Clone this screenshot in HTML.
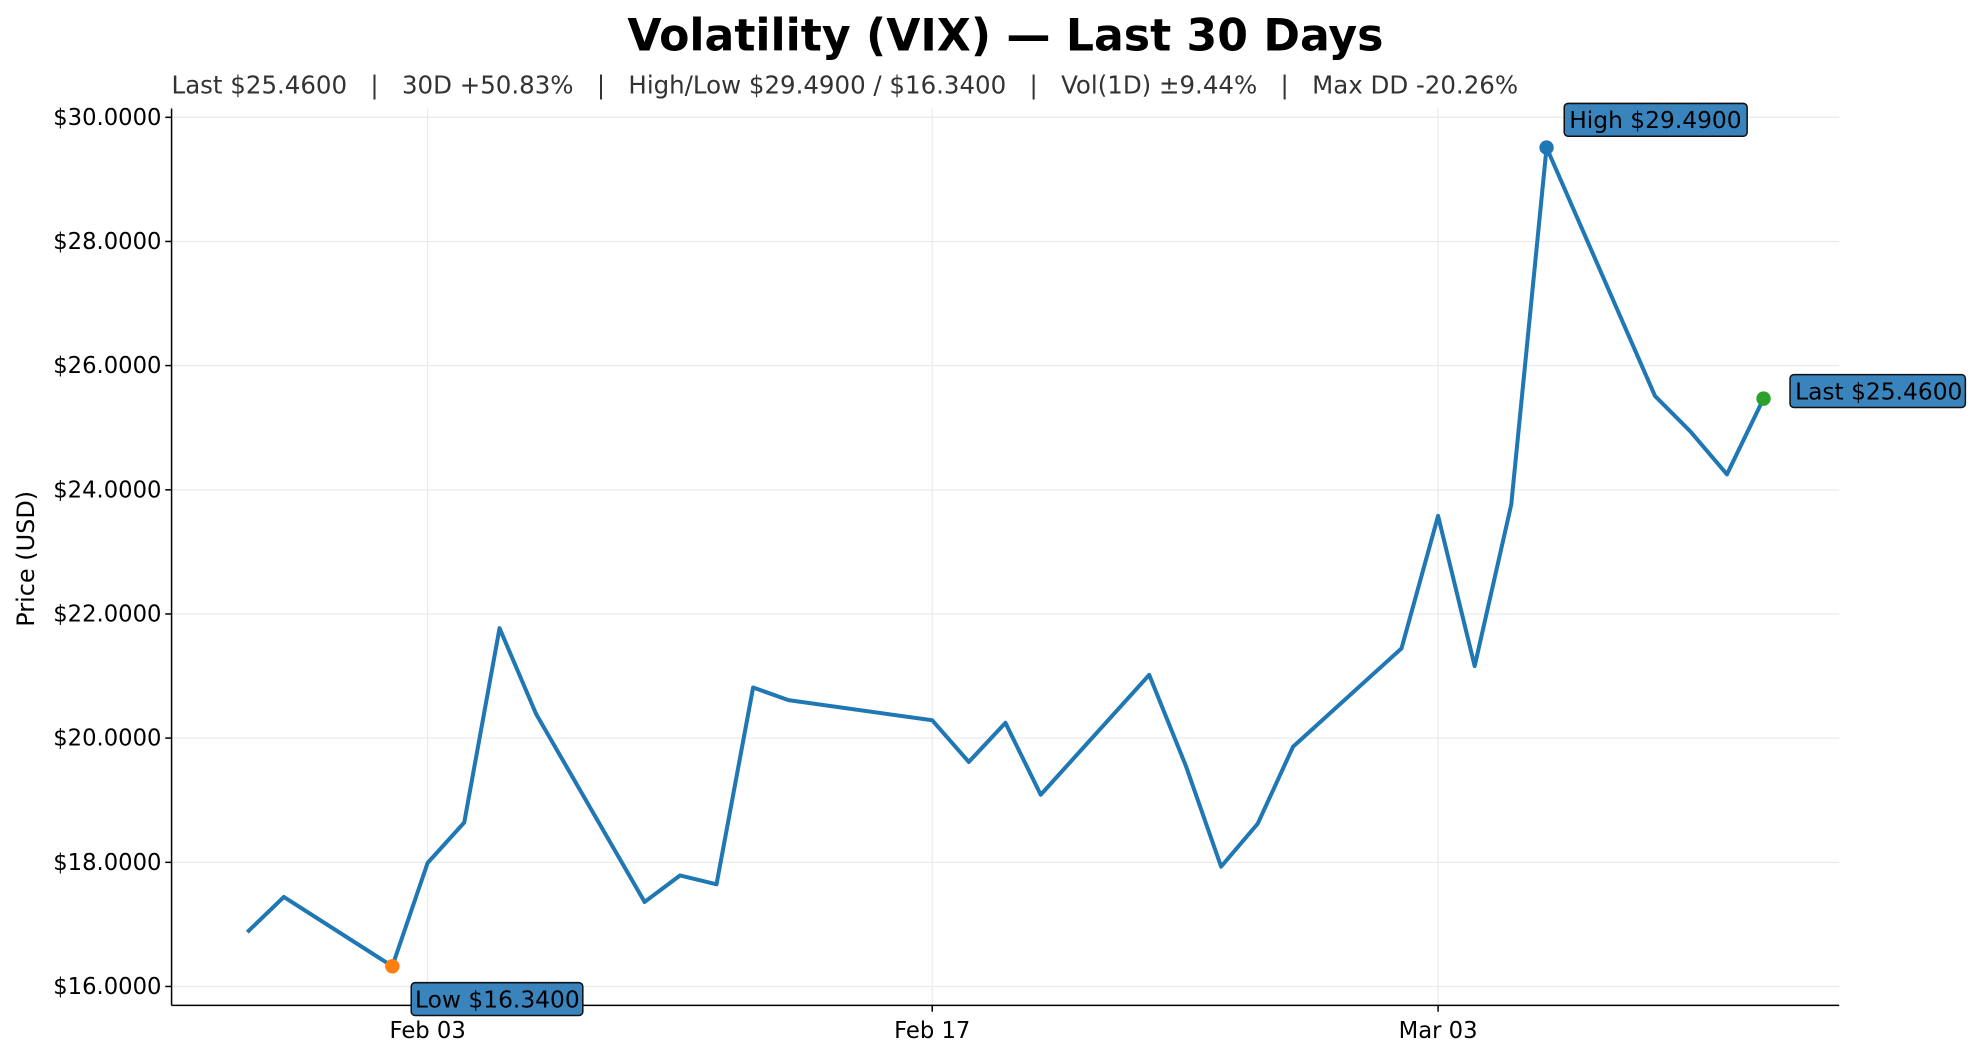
<!DOCTYPE html>
<html><head><meta charset="utf-8"><style>
html,body{margin:0;padding:0;background:#fff;}
svg{display:block;font-family:"DejaVu Sans","Liberation Sans",sans-serif;}
</style></head><body>
<svg width="1978" height="1059" viewBox="0 0 1568 839.5" xmlns="http://www.w3.org/2000/svg">
<rect width="1568" height="839.5" fill="#fff"/>
<text x="797" y="40" text-anchor="middle" font-size="35" font-weight="bold" fill="#000">Volatility (VIX) — Last 30 Days</text>
<text x="136" y="74" font-size="19.4" fill="#333" xml:space="preserve">Last $25.4600   |   30D +50.83%   |   High/Low $29.4900 / $16.3400   |   Vol(1D) ±9.44%   |   Max DD -20.26%</text>
<g stroke="#ebebeb" stroke-width="1">
<line x1="136" x2="1458" y1="93" y2="93"/>
<line x1="136" x2="1458" y1="191.4" y2="191.4"/>
<line x1="136" x2="1458" y1="289.8" y2="289.8"/>
<line x1="136" x2="1458" y1="388.3" y2="388.3"/>
<line x1="136" x2="1458" y1="486.7" y2="486.7"/>
<line x1="136" x2="1458" y1="585.1" y2="585.1"/>
<line x1="136" x2="1458" y1="683.6" y2="683.6"/>
<line x1="136" x2="1458" y1="782" y2="782"/>
<line x1="339" x2="339" y1="86" y2="797"/>
<line x1="739" x2="739" y1="86" y2="797"/>
<line x1="1140" x2="1140" y1="86" y2="797"/>
</g>
<g stroke="#000" stroke-width="1.2">
<line x1="136" x2="136" y1="86" y2="797"/>
<line x1="136" x2="1458" y1="797" y2="797"/>
<line x1="131" x2="136" y1="93" y2="93"/>
<line x1="131" x2="136" y1="191.4" y2="191.4"/>
<line x1="131" x2="136" y1="289.8" y2="289.8"/>
<line x1="131" x2="136" y1="388.3" y2="388.3"/>
<line x1="131" x2="136" y1="486.7" y2="486.7"/>
<line x1="131" x2="136" y1="585.1" y2="585.1"/>
<line x1="131" x2="136" y1="683.6" y2="683.6"/>
<line x1="131" x2="136" y1="782" y2="782"/>
<line x1="339" x2="339" y1="797" y2="802"/>
<line x1="739" x2="739" y1="797" y2="802"/>
<line x1="1140" x2="1140" y1="797" y2="802"/>
</g>
<g font-size="18" fill="#000" text-anchor="end">
<text x="128" y="99">$30.0000</text>
<text x="128" y="197.4">$28.0000</text>
<text x="128" y="295.8">$26.0000</text>
<text x="128" y="394.3">$24.0000</text>
<text x="128" y="492.7">$22.0000</text>
<text x="128" y="591.1">$20.0000</text>
<text x="128" y="689.6">$18.0000</text>
<text x="128" y="788">$16.0000</text>
</g>
<g font-size="18" fill="#000" text-anchor="middle">
<text x="339" y="823">Feb 03</text>
<text x="739" y="823">Feb 17</text>
<text x="1140" y="823">Mar 03</text>
</g>
<text transform="translate(27,443) rotate(-90)" font-size="19" text-anchor="middle" fill="#000">Price (USD)</text>
<polyline fill="none" stroke="#1f77b4" stroke-width="3.2" stroke-linejoin="round" points="196,739 225,711 311,766 339,684 368,652 396,498 425,566 511,715 539,694 568,701 597,545 625,555 739,571 768,604 797,573 825,630 911,535 940,607 968,687 997,653 1025,592 1111,514 1140,409 1169,528 1198,400 1226,117 1312,314 1340,342 1369,376 1398,316"/>
<circle cx="311" cy="766" r="5.7" fill="#ff7f0e"/>
<circle cx="1226" cy="117" r="5.7" fill="#1f77b4"/>
<circle cx="1398" cy="316" r="5.7" fill="#2ca02c"/>
<g font-size="18.5" fill="#000">
<rect x="326" y="779" width="136" height="26" rx="3" fill="#3a84bd" stroke="#111" stroke-width="1.2"/>
<text x="329" y="798.5">Low $16.3400</text>
<rect x="1240" y="82" width="145" height="26" rx="3" fill="#3a84bd" stroke="#111" stroke-width="1.2"/>
<text x="1244" y="101.5">High $29.4900</text>
<rect x="1419" y="297" width="139" height="26" rx="3" fill="#3a84bd" stroke="#111" stroke-width="1.2"/>
<text x="1423" y="316.5">Last $25.4600</text>
</g>
</svg>
</body></html>
